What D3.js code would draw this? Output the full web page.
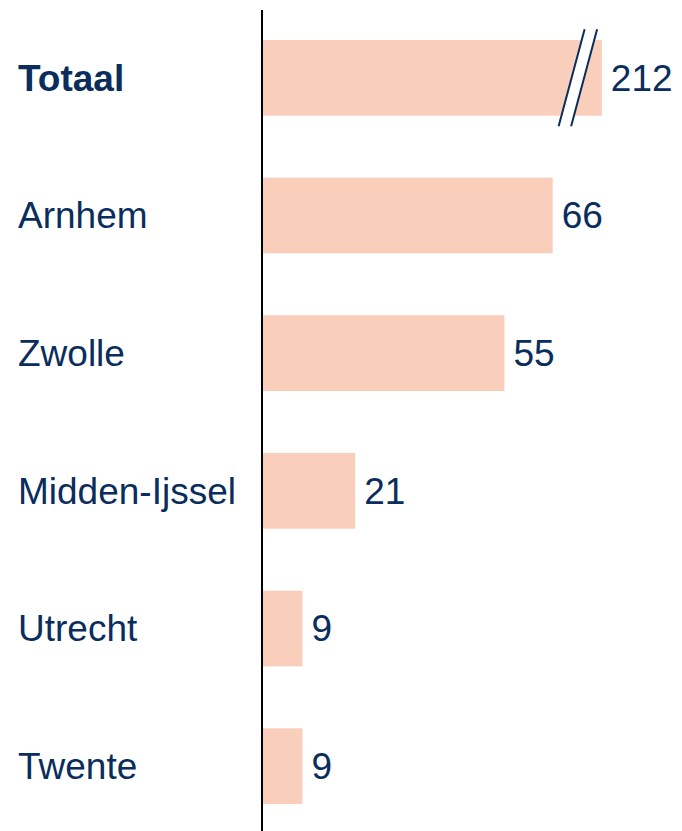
<!doctype html>
<html>
<head>
<meta charset="utf-8">
<script src="https://cdnjs.cloudflare.com/ajax/libs/d3/7.8.5/d3.min.js"></script>
<style>
  body { margin: 0; background: #fff; }
  svg { display: block; font-family: "Liberation Sans", Arial, sans-serif; }
</style>
</head>
<body>
<svg id="chart" width="682" height="831"></svg>
<script>
// regio's en aantallen
var regios = ["Totaal", "Arnhem", "Zwolle", "Midden-Ijssel", "Utrecht", "Twente"];
var aantallen = [212, 66, 55, 21, 9, 9];
// Totaal wordt afgebroken getekend
var breekWaarde = 77.2;

var navy = "#0a2d5c";
var zalm = "#f9cfbc";

var svg = d3.select("#chart");

var x = d3.scaleLinear().domain([0, 95]).range([263, 680]);
var y = d3.scaleBand().domain(regios).range([9, 835]).paddingInner(0.45).paddingOuter(0.225);

var data = regios.map(function(r, i) { return { regio: r, waarde: aantallen[i] }; });

function eind(d) { return x(Math.min(d.waarde, breekWaarde)); }

// balken
svg.selectAll("rect.bar")
  .data(data)
  .enter().append("rect")
  .attr("class", "bar")
  .attr("x", x(0))
  .attr("y", function(d) { return y(d.regio); })
  .attr("width", function(d) { return eind(d) - x(0); })
  .attr("height", y.bandwidth())
  .attr("fill", zalm);

// breekteken op de afgebroken balk
data.filter(function(d) { return d.waarde > breekWaarde; }).forEach(function(d) {
  var cx = eind(d) - 24, cy = y(d.regio) + y.bandwidth() / 2;
  var h = 48.5, dx = 13, gap = 12.5;
  var g = svg.append("g");
  g.append("path")
    .attr("d", "M" + (cx - dx - gap / 2) + "," + (cy + h) + "L" + (cx + dx - gap / 2) + "," + (cy - h) +
      "L" + (cx + dx + gap / 2) + "," + (cy - h) + "L" + (cx - dx + gap / 2) + "," + (cy + h) + "Z")
    .attr("fill", "#fff");
  [-gap / 2, gap / 2].forEach(function(o) {
    g.append("line")
      .attr("x1", cx - dx + o).attr("y1", cy + h)
      .attr("x2", cx + dx + o).attr("y2", cy - h)
      .attr("stroke", navy).attr("stroke-width", 2);
  });
});

// as
svg.append("line")
  .attr("x1", 262).attr("x2", 262)
  .attr("y1", 10).attr("y2", 831)
  .attr("stroke", "#000").attr("stroke-width", 2);

// categorielabels
svg.selectAll("text.label")
  .data(data)
  .enter().append("text")
  .attr("class", "label")
  .attr("x", 18)
  .attr("y", function(d) { return y(d.regio) + y.bandwidth() / 2; })
  .attr("dy", "0.35em")
  .attr("fill", navy)
  .style("font-size", "37px")
  .style("font-weight", function(d, i) { return i === 0 ? "bold" : "normal"; })
  .text(function(d) { return d.regio; });

// waardelabels
svg.selectAll("text.waarde")
  .data(data)
  .enter().append("text")
  .attr("class", "waarde")
  .attr("x", function(d) { return eind(d) + 9; })
  .attr("y", function(d) { return y(d.regio) + y.bandwidth() / 2; })
  .attr("dy", "0.35em")
  .attr("fill", navy)
  .style("font-size", "37px")
  .text(function(d) { return d.waarde; });
</script>
</body>
</html>
